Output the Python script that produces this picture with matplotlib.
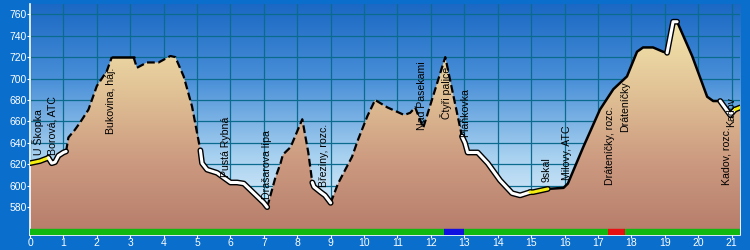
# Elevation profile of a hiking route (Kutná Hora area) in an old-style desktop look

import numpy as np
import matplotlib.pyplot as plt
from matplotlib.colors import LinearSegmentedColormap

plt.rcParams['font.family'] = ['Liberation Sans', 'DejaVu Sans']

# profile: distance in km, elevation in m
km = [0.0, 0.3, 0.55, 0.65, 0.75, 0.85, 1.0, 1.08, 1.15, 1.34, 1.5, 1.75, 2.0, 2.3,
      2.45, 3.1, 3.2, 3.5, 3.85, 4.2, 4.35, 4.6, 4.85, 5.1, 5.15, 5.3, 5.6, 6.0,
      6.2, 6.4, 6.6, 7.0, 7.1, 7.34, 7.5, 7.57, 7.8, 8.15, 8.33, 8.45, 8.5, 8.7,
      8.83, 9.0, 9.22, 9.64, 9.82, 10.1, 10.33, 10.7, 11.2, 11.38, 11.53, 11.77,
      12.43, 12.93, 13.02, 13.1, 13.4, 13.7, 14.07, 14.43, 14.67, 14.97, 15.06,
      15.5, 15.97, 16.1, 16.56, 17.06, 17.46, 17.87, 18.17, 18.35, 18.65, 18.95,
      19.07, 19.25, 19.37, 19.82, 20.27, 20.45, 20.66, 20.96, 21.1, 21.26]
elev = [621, 623, 626, 621, 622, 628, 631, 632, 645, 652, 659, 671, 693, 707,
        720, 720, 710, 715, 715, 721, 720, 702, 674, 633, 621, 615, 612, 603,
        603, 602, 596, 584, 580, 607, 621, 629, 636, 662, 631, 603, 599, 594,
        591, 584, 602, 627, 643, 665, 680, 673, 666, 668, 673, 654,
        720, 646, 640, 631, 631, 621, 605, 593, 591, 594, 594,
        597, 598, 602, 636, 671, 690, 702, 725, 729, 729, 725,
        724, 753, 753, 721, 683, 679, 679, 666, 671, 673]

# surface sections along the route
seg_breaks = [0, 0.55, 1.08, 2.45, 3.1, 5.1, 7.1, 8.45, 9.0, 12.93, 14.97, 15.5,
              19.07, 19.37, 20.66, 21.1, 21.26]
seg_kind = ['yellow', 'white', 'dash', 'solid', 'dash', 'white', 'dash', 'white',
            'dash', 'white', 'yellow', 'solid', 'white', 'solid', 'white', 'yellow']

# waypoints: name, km, elevation where the label starts
wp_names = ['U Škopka', 'Borová, ATC', 'Bukovina, háj.', 'Pustá Rybná', 'Drašarova lípa',
            'Březiny, rozc.', 'Nad Pasekami', 'Čtyři palice', 'Pláňkovka', '9skal',
            'Milovy, ATC', 'Dráteníčky, rozc.', 'Dráteníčky', 'Kadov, rozc.', 'Kadov']
wp_km = [0.24, 0.66, 2.42, 5.88, 7.08, 8.81, 11.73, 12.45, 13.02, 15.46,
         16.06, 17.37, 17.82, 20.84, 20.99]
wp_elev = [629, 629, 648, 608, 588, 599, 652, 662, 645, 603, 605, 601, 650, 601, 655]

# bar under the profile: green, with blue and red stretches
bar_breaks = [0, 12.4, 13.0, 17.3, 17.8, 21.26]
bar_colors = ['#10b810', '#1010e0', '#10b810', '#e81010', '#10b810']

y_ticks = np.arange(580, 761, 20)
x_ticks = np.arange(0, 22, 1)

outer = '#0a6ecc'
fig = plt.figure(figsize=(7.5, 2.5), dpi=100, facecolor=outer)
ax = fig.add_axes([0.04, 0.06, 0.947, 0.926])

x0, x1 = 0, 21.26
y0, y1 = 554, 770
ax.set_xlim(x0, x1)
ax.set_ylim(y0, y1)

# sky gradient
sky = LinearSegmentedColormap.from_list('sky', ['#eef7fd', '#a9d2f0', '#4a90d8', '#1a68c4'])
grad = np.linspace(0, 1, 256).reshape(-1, 1)
ax.imshow(grad, cmap=sky, aspect='auto', extent=[x0, x1, y0, y1], origin='lower', zorder=0)

# grid sits between sky and ground
ax.set_axisbelow(True)
ax.grid(True, color='#0b6b8e', linewidth=0.9)

# ground fill with gradient
ground = LinearSegmentedColormap.from_list('ground', ['#b57c6a', '#cc9a80', '#e2c497', '#f6eaae'])
img = ax.imshow(grad, cmap=ground, aspect='auto', extent=[x0, x1, y0, 760],
                origin='lower', zorder=2)
poly = ax.fill_between(km, elev, y0, color='none', zorder=2)
img.set_clip_path(poly.get_paths()[0], transform=ax.transData)

# profile line by section
km_a = np.array(km)
el_a = np.array(elev)
for a, b, kind in zip(seg_breaks[:-1], seg_breaks[1:], seg_kind):
    m = (km_a >= a - 1e-9) & (km_a <= b + 1e-9)
    xs, ys = km_a[m], el_a[m]
    if kind == 'dash':
        ax.plot(xs, ys, color='black', lw=1.6, dashes=(3.5, 1.6), zorder=4)
    elif kind == 'solid':
        ax.plot(xs, ys, color='black', lw=1.8, zorder=4, solid_capstyle='round')
    else:
        col = 'white' if kind == 'white' else '#f4ee10'
        ax.plot(xs, ys, color='black', lw=4.2, zorder=4, solid_capstyle='round')
        ax.plot(xs, ys, color=col, lw=2.2, zorder=5, solid_capstyle='round')

for name, x, y in zip(wp_names, wp_km, wp_elev):
    ax.text(x, y, name, rotation=90, ha='center', va='bottom', fontsize=7.6,
            color='black', zorder=6)

for a, b, c in zip(bar_breaks[:-1], bar_breaks[1:], bar_colors):
    ax.plot([a, b], [557, 557], color=c, lw=4.6, solid_capstyle='butt', zorder=6)

ax.set_xticks(x_ticks)
ax.set_yticks(y_ticks)
ax.tick_params(colors='white', labelsize=7.5, length=2, width=0.8, pad=0.5)
for s in ['top', 'right']:
    ax.spines[s].set_visible(False)
for s in ['left', 'bottom']:
    ax.spines[s].set_color('white')
    ax.spines[s].set_linewidth(1.2)

fig.savefig('out.png', dpi=100, facecolor=outer)
